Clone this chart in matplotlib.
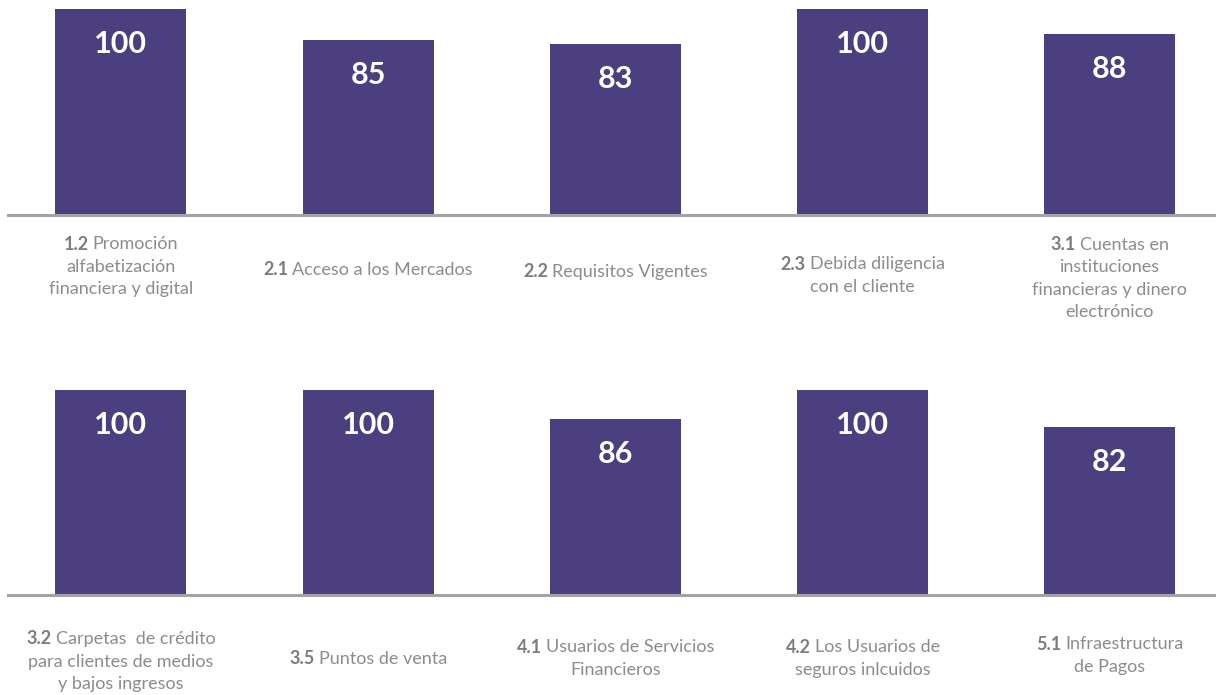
import matplotlib.pyplot as plt

# data
top_codes = ['1.2', '2.1', '2.2', '2.3', '3.1']
top_labels = ['Promoción\nalfabetización\nfinanciera y digital',
              'Acceso a los Mercados',
              'Requisitos Vigentes',
              'Debida diligencia\ncon el cliente',
              'Cuentas en\ninstituciones\nfinancieras y dinero\nelectrónico']
top_values = [100, 85, 83, 100, 88]

bottom_codes = ['3.2', '3.5', '4.1', '4.2', '5.1']
bottom_labels = ['Carpetas  de crédito\npara clientes de medios\ny bajos ingresos',
                 'Puntos de venta',
                 'Usuarios de Servicios\nFinancieros',
                 'Los Usuarios de\nseguros inlcuidos',
                 'Infraestructura\nde Pagos']
bottom_values = [100, 100, 86, 100, 82]

bar_color = '#4b3f80'
line_color = '#a3a3a3'
code_color = '#7d7d7d'
text_color = '#8c8c8c'
W, H = 1216, 695

fig = plt.figure(figsize=(W / 100, H / 100), dpi=100)
renderer = fig.canvas.get_renderer()


def text_width(s, **kw):
    t = fig.text(0, 0, s, **kw)
    w = t.get_window_extent(renderer).width
    t.remove()
    return w


def draw_row(base_px, top_px, codes, labels, values, label_centers):
    ax = fig.add_axes([0, 1 - base_px / H, 1, (base_px - top_px) / H])
    x = list(range(len(values)))
    ax.bar(x, values, width=0.53, color=bar_color, zorder=2)
    ax.set_xlim(-0.489, 4.429)
    ax.set_ylim(0, 100)
    ax.axis('off')
    ax.axhline(0, xmin=8 / W, xmax=1, color=line_color, lw=2.2, zorder=3, clip_on=False)

    for xi, v in zip(x, values):
        ax.annotate(str(v), (xi, v), xytext=(0, -35), textcoords='offset pixels',
                    ha='center', va='center', color='white', fontsize=22,
                    fontweight='bold', family='Lato')

    code_kw = dict(fontsize=13, fontweight='bold', family='Lato', color=code_color)
    rest_kw = dict(fontsize=13, fontweight='normal', family='Lato', color=text_color)
    lh = 22.5
    for xi, code, lab, lc in zip(x, codes, labels, label_centers):
        lines = lab.split('\n')
        n = len(lines)
        for j, line in enumerate(lines):
            y = -lc + ((n - 1) / 2 - j) * lh
            if j == 0:
                wp = text_width(code, **code_kw)
                wr = text_width(line, **rest_kw)
                gap = 4
                x0 = -(wp + gap + wr) / 2 + wp
                ax.annotate(code, (xi, 0), xytext=(x0, y), textcoords='offset pixels',
                            ha='right', va='center_baseline', annotation_clip=False, **code_kw)
                ax.annotate(line, (xi, 0), xytext=(x0 + gap, y), textcoords='offset pixels',
                            ha='left', va='center_baseline', annotation_clip=False, **rest_kw)
            else:
                ax.annotate(line, (xi, 0), xytext=(0, y), textcoords='offset pixels',
                            ha='center', va='center_baseline', annotation_clip=False, **rest_kw)
    return ax


draw_row(215, 9, top_codes, top_labels, top_values, [50, 53, 55, 59, 62])
draw_row(595, 390, bottom_codes, bottom_labels, bottom_values, [65, 62, 62, 62, 59])

fig.savefig('out.png', dpi=100, facecolor='white')
